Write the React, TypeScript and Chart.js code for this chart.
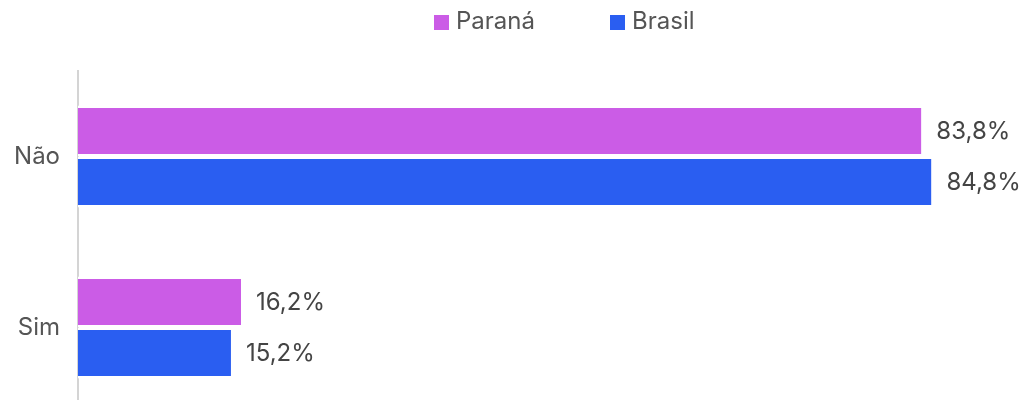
import React, { useEffect, useRef } from "react";
import { Chart, registerables } from "chart.js";

Chart.register(...registerables);

const categories = ["Não", "Sim"];
const seriesNames = ["Paraná", "Brasil"];
const paranaValues = [83.8, 16.2];
const brasilValues = [84.8, 15.2];
const seriesColors = ["#CB5CE6", "#2A5EF1"];

const FONT = "Inter, Roboto, 'Noto Sans', sans-serif";
const FONT_SIZE = 24;

const fmt = (v: number) => v.toFixed(1).replace(".", ",") + "%";

const valueLabels = {
  id: "valueLabels",
  afterDatasetsDraw(chart: any) {
    const ctx = chart.ctx;
    ctx.save();
    ctx.font = `${FONT_SIZE}px ${FONT}`;
    ctx.fillStyle = "#444444";
    ctx.textBaseline = "middle";
    ctx.textAlign = "left";
    chart.data.datasets.forEach((ds: any, i: number) => {
      const meta = chart.getDatasetMeta(i);
      meta.data.forEach((bar: any, j: number) => {
        ctx.fillText(fmt(ds.data[j]), bar.x + 15, bar.y + 1);
      });
    });
    ctx.restore();
  },
};

const topLegend = {
  id: "topLegend",
  afterDraw(chart: any) {
    const ctx = chart.ctx;
    const xs = [426, 602];
    ctx.save();
    ctx.font = `${FONT_SIZE}px ${FONT}`;
    ctx.textBaseline = "middle";
    ctx.textAlign = "left";
    chart.data.datasets.forEach((ds: any, i: number) => {
      ctx.fillStyle = ds.backgroundColor;
      ctx.fillRect(xs[i], 7, 15, 15);
      ctx.fillStyle = "#555555";
      ctx.fillText(ds.label, xs[i] + 22, 14);
    });
    ctx.restore();
  },
};

export default function App() {
  const ref = useRef<HTMLCanvasElement | null>(null);

  useEffect(() => {
    if (!ref.current) return;
    const barBorder = { top: 2.5, bottom: 2.5, left: 0, right: 0 };
    const chart = new Chart(ref.current, {
      type: "bar",
      data: {
        labels: categories,
        datasets: [
          {
            label: seriesNames[0],
            data: paranaValues,
            backgroundColor: seriesColors[0],
            borderColor: "#ffffff",
            borderWidth: barBorder,
            borderSkipped: false,
            categoryPercentage: 0.596,
            barPercentage: 1,
          },
          {
            label: seriesNames[1],
            data: brasilValues,
            backgroundColor: seriesColors[1],
            borderColor: "#ffffff",
            borderWidth: barBorder,
            borderSkipped: false,
            categoryPercentage: 0.596,
            barPercentage: 1,
          },
        ],
      },
      options: {
        indexAxis: "y",
        animation: false,
        responsive: false,
        maintainAspectRatio: false,
        layout: { padding: { top: 63, bottom: 18, left: 0, right: 0 } },
        plugins: {
          legend: { display: false },
          tooltip: { enabled: false },
        },
        scales: {
          x: { display: false, min: 0, max: 93.6 },
          y: {
            grid: { display: false, drawTicks: false },
            border: { display: true, color: "#d4d4d4", width: 2 },
            ticks: {
              color: "#555555",
              padding: 18,
              font: { family: FONT, size: FONT_SIZE },
            },
            afterFit: (scale: any) => {
              scale.width = 70;
              scale.paddingTop = 0;
              scale.paddingBottom = 0;
            },
          },
        },
      },
      plugins: [valueLabels, topLegend],
    } as any);
    return () => chart.destroy();
  }, []);

  return (
    <div style={{ width: 1012, height: 400, overflow: "hidden", marginBottom: -8 }}>
      <canvas ref={ref} width={1012} height={423} style={{ display: "block", width: 1012, height: 423 }} />
    </div>
  );
}
